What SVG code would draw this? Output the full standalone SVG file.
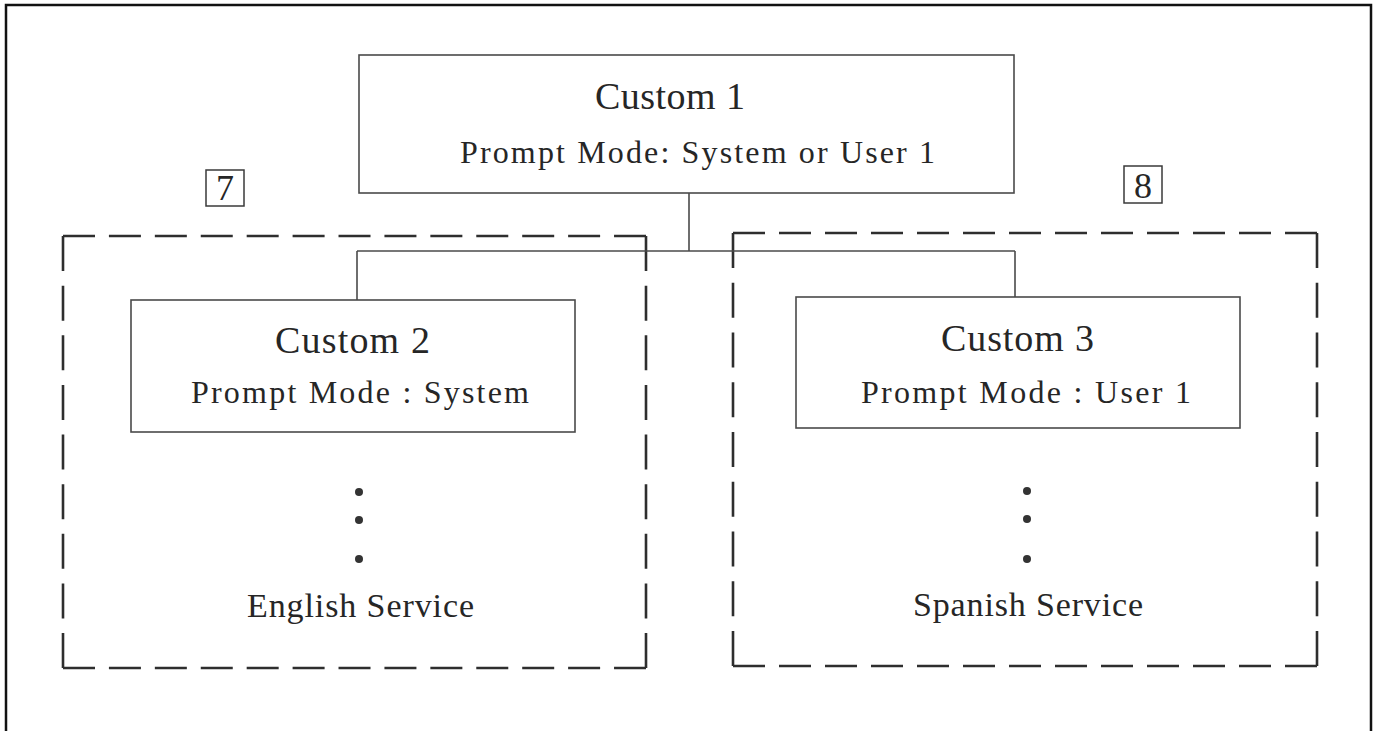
<svg xmlns="http://www.w3.org/2000/svg" width="1378" height="731" viewBox="0 0 1378 731">
<style>
  .frame { fill: none; stroke: #111; stroke-width: 2.5; }
  .node { fill: #fff; stroke: #4a4a4a; stroke-width: 1.6; }
  .tag { fill: #fff; stroke: #3a3a3a; stroke-width: 1.5; }
  .conn { fill: none; stroke: #4a4a4a; stroke-width: 1.6; }
  .dash { fill: none; stroke: #2e2e2e; stroke-width: 2.6; stroke-linecap: butt; }
  .title { font-family: "Liberation Serif", "Times New Roman", serif; font-size: 38px; fill: #262626; }
  .sub { font-family: "Liberation Serif", "Times New Roman", serif; font-size: 32px; fill: #262626; }
  .svc { font-family: "Liberation Serif", "Times New Roman", serif; font-size: 34px; fill: #262626; }
  .num { font-family: "Liberation Serif", "Times New Roman", serif; font-size: 36px; fill: #262626; text-anchor: middle; }
  .dot { fill: #333; }
</style>
<rect x="0" y="0" width="1378" height="731" fill="#fff"/>
<path class="frame" d="M6,733 V5 H1371 V733"/>

<g id="group-english">
  <line class="dash" x1="63" y1="236" x2="646" y2="236" stroke-dasharray="32 13.92"/>
  <line class="dash" x1="63" y1="668" x2="646" y2="668" stroke-dasharray="32 13.92"/>
  <line class="dash" x1="63" y1="236" x2="63" y2="668" stroke-dasharray="35 14.625"/>
  <line class="dash" x1="646" y1="236" x2="646" y2="668" stroke-dasharray="35 14.625"/>
  <circle class="dot" cx="359" cy="492" r="4"/>
  <circle class="dot" cx="359" cy="520" r="4"/>
  <circle class="dot" cx="359" cy="559" r="4"/>
  <text class="svc" x="247" y="617" textLength="227" lengthAdjust="spacing">English Service</text>
</g>

<g id="group-spanish">
  <line class="dash" x1="733" y1="233" x2="1317" y2="233" stroke-dasharray="32 14"/>
  <line class="dash" x1="733" y1="666" x2="1317" y2="666" stroke-dasharray="32 14"/>
  <line class="dash" x1="733" y1="233" x2="733" y2="666" stroke-dasharray="35 14.75"/>
  <line class="dash" x1="1317" y1="233" x2="1317" y2="666" stroke-dasharray="35 14.75"/>
  <circle class="dot" cx="1027" cy="491" r="4"/>
  <circle class="dot" cx="1027" cy="519" r="4"/>
  <circle class="dot" cx="1027" cy="559" r="4"/>
  <text class="svc" x="913" y="616" textLength="230" lengthAdjust="spacing">Spanish Service</text>
</g>

<g id="tag-7">
  <rect class="tag" x="206" y="170" width="38" height="36"/>
  <text class="num" x="225" y="200">7</text>
</g>

<g id="tag-8">
  <rect class="tag" x="1124" y="166" width="38" height="37"/>
  <text class="num" x="1143" y="198">8</text>
</g>

<g id="connectors">
  <line class="conn" x1="689" y1="193" x2="689" y2="251"/>
  <line class="conn" x1="357" y1="251" x2="1015" y2="251"/>
  <line class="conn" x1="357" y1="251" x2="357" y2="300"/>
  <line class="conn" x1="1015" y1="251" x2="1015" y2="297"/>
</g>

<g id="custom1">
  <rect class="node" x="359" y="55" width="655" height="138"/>
  <text class="title" x="595" y="109" textLength="150" lengthAdjust="spacing">Custom 1</text>
  <text class="sub" x="460" y="163" textLength="475" lengthAdjust="spacing">Prompt Mode: System or User 1</text>
</g>

<g id="custom2">
  <rect class="node" x="131" y="300" width="444" height="132"/>
  <text class="title" x="275" y="353" textLength="155" lengthAdjust="spacing">Custom 2</text>
  <text class="sub" x="191" y="403" textLength="338" lengthAdjust="spacing">Prompt Mode : System</text>
</g>

<g id="custom3">
  <rect class="node" x="796" y="297" width="444" height="131"/>
  <text class="title" x="941" y="351" textLength="153" lengthAdjust="spacing">Custom 3</text>
  <text class="sub" x="861" y="403" textLength="330" lengthAdjust="spacing">Prompt Mode : User 1</text>
</g>
</svg>
